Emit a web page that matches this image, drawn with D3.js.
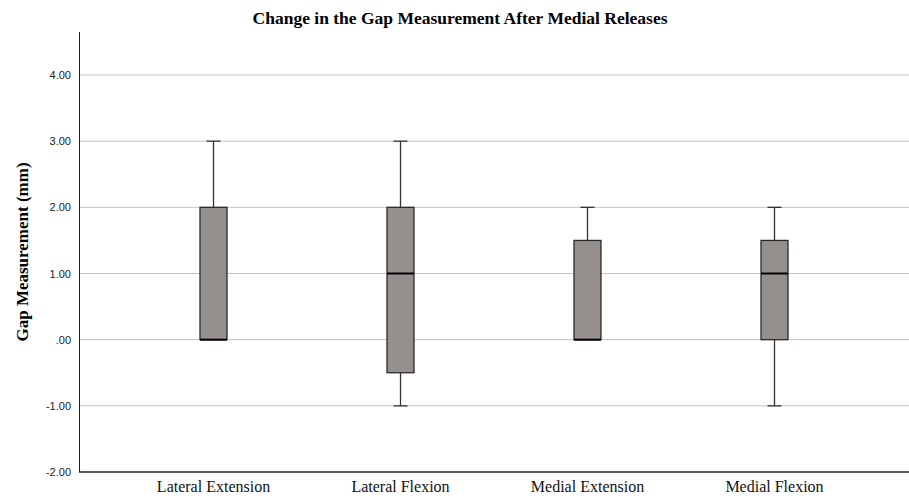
<!DOCTYPE html>
<html>
<head>
<meta charset="utf-8">
<script src="https://cdn.jsdelivr.net/npm/d3@7"></script>
<style>
  body { margin: 0; background: #fff; }
</style>
</head>
<body>
<div id="chart"></div>
<script>
// data
var categories = ["Lateral Extension", "Lateral Flexion", "Medial Extension", "Medial Flexion"];
var mins    = [0, -1, 0, -1];
var q1s     = [0, -0.5, 0, 0];
var medians = [0, 1, 0, 1];
var q3s     = [2, 2, 1.5, 1.5];
var maxs    = [3, 3, 2, 2];
var yTicks  = [-2, -1, 0, 1, 2, 3, 4];

var W = 909, H = 499;
var axisLeft = 79, axisBottom = 472, axisTop = 32;

var svg = d3.select("#chart").append("svg")
  .attr("width", W).attr("height", H);

var x = d3.scaleBand()
  .domain(categories)
  .range([120, 868]);

var y = d3.scaleLinear()
  .domain([-2, 4])
  .range([axisBottom, 75]);

// title
svg.append("text")
  .attr("x", 460).attr("y", 24)
  .attr("text-anchor", "middle")
  .style("font-family", "Liberation Serif, serif")
  .style("font-weight", "bold")
  .style("font-size", "17.5px")
  .text("Change in the Gap Measurement After Medial Releases");

// gridlines
svg.append("g").selectAll("line")
  .data(yTicks.filter(function(d) { return d > -2; }))
  .enter().append("line")
    .attr("x1", axisLeft).attr("x2", W)
    .attr("y1", function(d) { return y(d); })
    .attr("y2", function(d) { return y(d); })
    .attr("stroke", "#c4c4c4")
    .attr("stroke-width", 1);

// y axis
var yAxis = svg.append("g")
  .attr("transform", "translate(" + axisLeft + ",0)")
  .call(d3.axisLeft(y).tickValues(yTicks).tickSize(0).tickPadding(8)
    .tickFormat(function(d) { return d === 0 ? ".00" : d.toFixed(2); }));
yAxis.select(".domain").remove();
yAxis.selectAll("text")
  .style("font-family", "Liberation Sans, Arial, sans-serif")
  .style("font-size", "11px")
  .attr("fill", "#222");

svg.append("line")
  .attr("x1", axisLeft + 0.5).attr("x2", axisLeft + 0.5)
  .attr("y1", axisTop).attr("y2", axisBottom)
  .attr("stroke", "#222").attr("stroke-width", 1);

// x axis
var xAxis = svg.append("g")
  .attr("transform", "translate(0," + axisBottom + ")")
  .call(d3.axisBottom(x).tickSize(0).tickPadding(9));
xAxis.select(".domain").remove();
xAxis.selectAll("text")
  .style("font-family", "Liberation Serif, serif")
  .style("font-size", "16px")
  .attr("fill", "#111");

svg.append("line")
  .attr("x1", axisLeft).attr("x2", W)
  .attr("y1", axisBottom).attr("y2", axisBottom)
  .attr("stroke", "#222").attr("stroke-width", 1.5);

// y title
svg.append("text")
  .attr("transform", "translate(28,252)rotate(-90)")
  .attr("text-anchor", "middle")
  .style("font-family", "Liberation Serif, serif")
  .style("font-weight", "bold")
  .style("font-size", "17px")
  .text("Gap Measurement (mm)");

// boxes
var boxW = 27, capW = 14;
var stats = categories.map(function(c, i) {
  return { cat: c, min: mins[i], q1: q1s[i], med: medians[i], q3: q3s[i], max: maxs[i] };
});

var g = svg.append("g").selectAll("g")
  .data(stats)
  .enter().append("g")
    .attr("transform", function(d) { return "translate(" + (x(d.cat) + x.bandwidth() / 2) + ",0)"; });

// whiskers
g.append("line")
  .attr("x1", 0).attr("x2", 0)
  .attr("y1", function(d) { return y(d.max); })
  .attr("y2", function(d) { return y(d.q3); })
  .attr("stroke", "#333").attr("stroke-width", 1.3);
g.append("line")
  .attr("x1", 0).attr("x2", 0)
  .attr("y1", function(d) { return y(d.q1); })
  .attr("y2", function(d) { return y(d.min); })
  .attr("stroke", "#333").attr("stroke-width", 1.3);
g.filter(function(d) { return d.max > d.q3; }).append("line")
  .attr("x1", -capW / 2).attr("x2", capW / 2)
  .attr("y1", function(d) { return y(d.max); })
  .attr("y2", function(d) { return y(d.max); })
  .attr("stroke", "#333").attr("stroke-width", 1.3);
g.filter(function(d) { return d.min < d.q1; }).append("line")
  .attr("x1", -capW / 2).attr("x2", capW / 2)
  .attr("y1", function(d) { return y(d.min); })
  .attr("y2", function(d) { return y(d.min); })
  .attr("stroke", "#333").attr("stroke-width", 1.3);

g.append("rect")
  .attr("x", -boxW / 2)
  .attr("width", boxW)
  .attr("y", function(d) { return y(d.q3); })
  .attr("height", function(d) { return y(d.q1) - y(d.q3); })
  .attr("fill", "#958f8d")
  .attr("stroke", "#2a2a2a")
  .attr("stroke-width", 1.3);

g.append("line")
  .attr("x1", -boxW / 2).attr("x2", boxW / 2)
  .attr("y1", function(d) { return y(d.med); })
  .attr("y2", function(d) { return y(d.med); })
  .attr("stroke", "#000").attr("stroke-width", 2);
</script>
</body>
</html>
